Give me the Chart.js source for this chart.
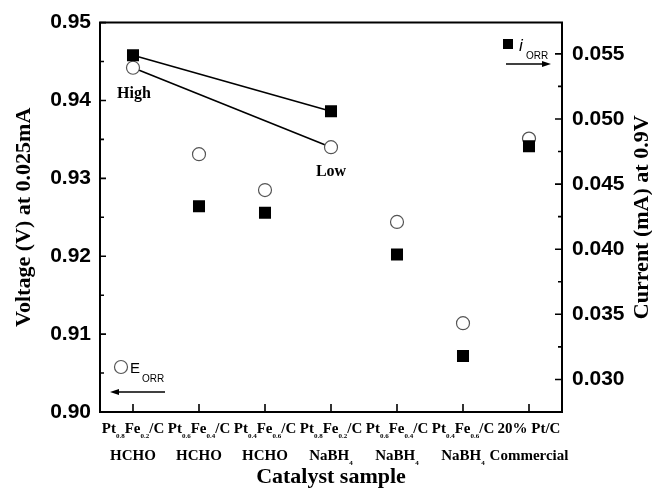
<!DOCTYPE html>
<html>
<head>
<meta charset="utf-8">
<script src="https://cdn.jsdelivr.net/npm/chart.js@4.4.1/dist/chart.umd.min.js"></script>
<style>
  html, body { margin: 0; padding: 0; background: #fff; }
  #wrap { width: 652px; height: 492px; }
</style>
</head>
<body>
<div id="wrap"><canvas id="chart" width="652" height="492"></canvas></div>
<script>
// catalyst samples, "_{..}" marks a subscript
const sampleFormula = ['Pt_{0.8}Fe_{0.2}/C', 'Pt_{0.6}Fe_{0.4}/C', 'Pt_{0.4}Fe_{0.6}/C',
    'Pt_{0.8}Fe_{0.2}/C', 'Pt_{0.6}Fe_{0.4}/C', 'Pt_{0.4}Fe_{0.6}/C', '20% Pt/C'];
const sampleMethod = ['HCHO', 'HCHO', 'HCHO', 'NaBH_{4}', 'NaBH_{4}', 'NaBH_{4}', 'Commercial'];

// onset voltage at 0.025 mA (V) and current at 0.9 V (mA)
const eOrr = [0.9442, 0.9331, 0.9285, 0.9340, 0.9244, 0.9114, 0.9351];
const iOrr = [0.0549, 0.0433, 0.0428, 0.0506, 0.0396, 0.0318, 0.0479];

const voltageTicks = [0.90, 0.91, 0.92, 0.93, 0.94, 0.95];
const currentTicks = [0.030, 0.035, 0.040, 0.045, 0.050, 0.055];

// high vs low Pt0.8Fe0.2 comparison (HCHO vs NaBH4)
const compared = [0, 3];

const categories = sampleFormula.map((f, i) => f + ' ' + sampleMethod[i]);
const pick = arr => arr.map((v, i) => compared.includes(i) ? v : null);

const SERIF = '"Liberation Serif", "Times New Roman", serif';
const SANS = '"Liberation Sans", Arial, sans-serif';

// draw text with _{sub} parts, centred on cx
function drawRich(ctx, text, cx, y, size) {
    const parts = [];
    const re = /_\{([^}]*)\}/g;
    let last = 0, m;
    while ((m = re.exec(text)) !== null) {
        if (m.index > last) parts.push({ t: text.slice(last, m.index), sub: false });
        parts.push({ t: m[1], sub: true });
        last = re.lastIndex;
    }
    if (last < text.length) parts.push({ t: text.slice(last), sub: false });

    const font = p => 'bold ' + (p.sub ? 7 : size) + 'px ' + SERIF;
    let total = 0;
    parts.forEach(p => {
        ctx.font = font(p);
        p.w = ctx.measureText(p.t).width;
        total += p.w;
    });
    let x = cx - total / 2;
    ctx.textAlign = 'left';
    ctx.textBaseline = 'alphabetic';
    parts.forEach(p => {
        ctx.font = font(p);
        ctx.fillText(p.t, x, p.sub ? y + 5 : y);
        x += p.w;
    });
}

function arrow(ctx, x1, x2, y) {
    const dir = x2 > x1 ? 1 : -1;
    ctx.beginPath();
    ctx.moveTo(x1, y);
    ctx.lineTo(x2 - dir * 6, y);
    ctx.lineWidth = 1.5;
    ctx.stroke();
    ctx.beginPath();
    ctx.moveTo(x2, y);
    ctx.lineTo(x2 - dir * 9, y - 3);
    ctx.lineTo(x2 - dir * 9, y + 3);
    ctx.closePath();
    ctx.fill();
}

const decorations = {
    id: 'decorations',
    afterDraw(chart) {
        const { ctx, chartArea: a, scales } = chart;
        ctx.save();
        ctx.strokeStyle = '#000';
        ctx.fillStyle = '#000';

        // frame top edge
        ctx.lineWidth = 2;
        ctx.beginPath();
        ctx.moveTo(a.left - 1, a.top);
        ctx.lineTo(a.right + 1, a.top);
        ctx.stroke();

        // inward tick marks
        ctx.lineWidth = 1.6;
        ctx.beginPath();
        voltageTicks.forEach((v, i) => {
            const y = scales.y.getPixelForValue(v);
            ctx.moveTo(a.left, y); ctx.lineTo(a.left + 6, y);
            if (i < voltageTicks.length - 1) {
                const ym = scales.y.getPixelForValue(v + 0.005);
                ctx.moveTo(a.left, ym); ctx.lineTo(a.left + 4, ym);
            }
        });
        currentTicks.forEach(v => {
            const y = scales.y1.getPixelForValue(v);
            ctx.moveTo(a.right, y); ctx.lineTo(a.right - 7, y);
            const ym = scales.y1.getPixelForValue(v + 0.0025);
            if (ym > a.top) { ctx.moveTo(a.right, ym); ctx.lineTo(a.right - 4, ym); }
        });
        categories.forEach((c, i) => {
            const x = scales.x.getPixelForValue(i);
            ctx.moveTo(x, a.bottom); ctx.lineTo(x, a.bottom - 8);
        });
        ctx.stroke();

        // category labels
        categories.forEach((c, i) => {
            const x = scales.x.getPixelForValue(i);
            drawRich(ctx, sampleFormula[i], x, 433, 15);
            drawRich(ctx, sampleMethod[i], x, 460, 15);
        });

        // right axis title, reading bottom to top
        ctx.save();
        ctx.translate(642, (a.top + a.bottom) / 2);
        ctx.rotate(-Math.PI / 2);
        ctx.font = 'bold 22px ' + SERIF;
        ctx.textAlign = 'center';
        ctx.textBaseline = 'middle';
        ctx.fillText('Current (mA) at 0.9V', 0, 0);
        ctx.restore();

        // High / Low notes
        ctx.font = 'bold 16px ' + SERIF;
        ctx.textAlign = 'center';
        ctx.textBaseline = 'middle';
        ctx.fillText('High', scales.x.getPixelForValue(0) + 1, 94);
        ctx.fillText('Low', scales.x.getPixelForValue(3), 172);

        // i_ORR key: filled square, arrow to the right axis
        ctx.fillRect(503, 39, 10, 10);
        ctx.font = 'italic 17px ' + SANS;
        ctx.textAlign = 'left';
        ctx.textBaseline = 'alphabetic';
        ctx.fillText('i', 519, 51);
        ctx.font = '10px ' + SANS;
        ctx.fillText('ORR', 526, 59);
        arrow(ctx, 506, 551, 64);

        // E_ORR key: open circle, arrow to the left axis
        ctx.beginPath();
        ctx.arc(121, 367, 6.5, 0, Math.PI * 2);
        ctx.lineWidth = 1.2;
        ctx.strokeStyle = '#555';
        ctx.stroke();
        ctx.fillStyle = '#000';
        ctx.font = '15px ' + SANS;
        ctx.fillText('E', 130, 373);
        ctx.font = '10px ' + SANS;
        ctx.fillText('ORR', 142, 382);
        ctx.strokeStyle = '#000';
        arrow(ctx, 165, 110, 392);

        ctx.restore();
    }
};

new Chart(document.getElementById('chart'), {
    type: 'line',
    data: {
        labels: categories,
        datasets: [
            {
                label: 'E_ORR',
                data: eOrr,
                yAxisID: 'y',
                showLine: false,
                pointStyle: 'circle',
                pointRadius: 6.5,
                pointBorderWidth: 1.2,
                pointBorderColor: '#555',
                pointBackgroundColor: '#fff',
                order: 1
            },
            {
                label: 'i_ORR',
                data: iOrr,
                yAxisID: 'y1',
                showLine: false,
                pointStyle: 'rect',
                pointRadius: 8.5,
                pointBorderWidth: 0,
                pointBackgroundColor: '#000',
                order: 0
            },
            {
                label: 'E_ORR high-low',
                data: pick(eOrr),
                yAxisID: 'y',
                spanGaps: true,
                pointRadius: 0,
                borderColor: '#000',
                borderWidth: 1.6,
                order: 2
            },
            {
                label: 'i_ORR high-low',
                data: pick(iOrr),
                yAxisID: 'y1',
                spanGaps: true,
                pointRadius: 0,
                borderColor: '#000',
                borderWidth: 1.6,
                order: 2
            }
        ]
    },
    options: {
        responsive: false,
        animation: false,
        layout: { padding: { top: 22, left: 0, right: 0, bottom: 0 } },
        plugins: {
            legend: { display: false },
            tooltip: { enabled: false }
        },
        scales: {
            x: {
                type: 'category',
                offset: true,
                grid: { display: false },
                border: { display: true, color: '#000', width: 2 },
                ticks: { display: false },
                title: {
                    display: true,
                    text: 'Catalyst sample',
                    color: '#000',
                    font: { family: SERIF, size: 22, weight: 'bold' },
                    padding: { top: 0, bottom: 1 }
                },
                afterFit: s => { s.height = 80; }
            },
            y: {
                position: 'left',
                min: 0.90,
                max: 0.95,
                grid: { display: false, drawTicks: false },
                border: { display: true, color: '#000', width: 2 },
                afterBuildTicks: s => { s.ticks = voltageTicks.map(v => ({ value: v })); },
                ticks: {
                    color: '#000',
                    padding: 9,
                    font: { family: SANS, size: 21, weight: 'bold' },
                    callback: v => v.toFixed(2)
                },
                title: {
                    display: true,
                    text: 'Voltage (V) at 0.025mA',
                    color: '#000',
                    font: { family: SERIF, size: 22, weight: 'bold' },
                    padding: { top: 11, bottom: 0 }
                },
                afterFit: s => { s.width = 100; }
            },
            y1: {
                position: 'right',
                min: 0.0275,
                max: 0.0574,
                grid: { display: false, drawTicks: false },
                border: { display: true, color: '#000', width: 2 },
                afterBuildTicks: s => { s.ticks = currentTicks.map(v => ({ value: v })); },
                ticks: {
                    color: '#000',
                    padding: 10,
                    font: { family: SANS, size: 21, weight: 'bold' },
                    callback: v => v.toFixed(3)
                },
                afterFit: s => { s.width = 90; }
            }
        }
    },
    plugins: [decorations]
});
</script>
</body>
</html>
